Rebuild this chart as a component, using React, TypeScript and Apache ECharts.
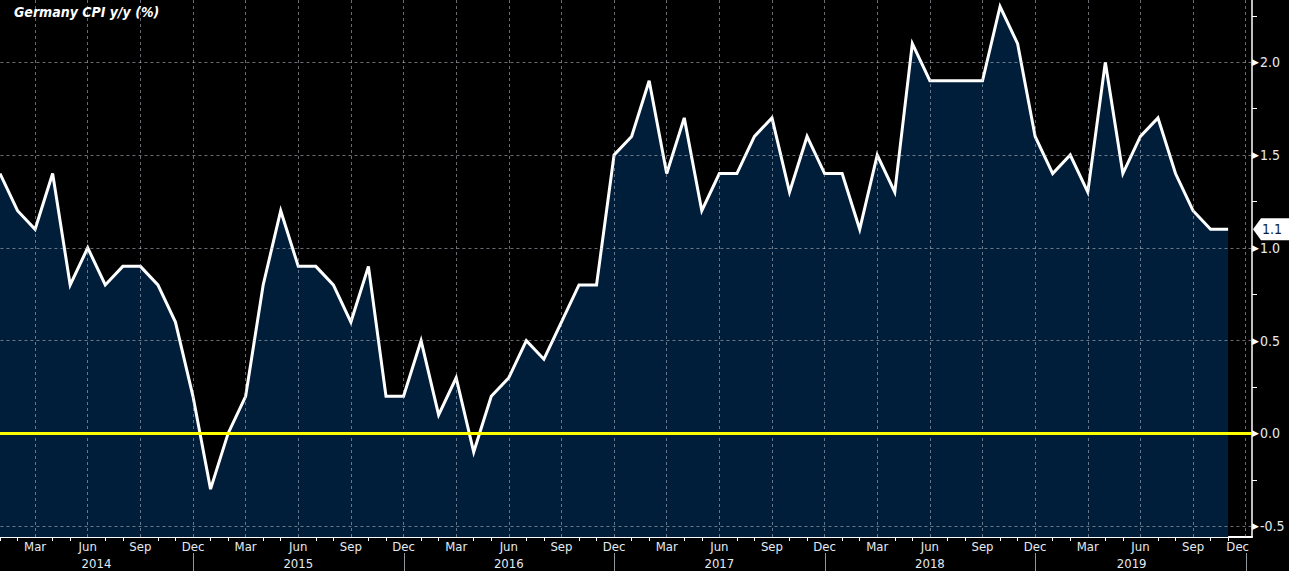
import React, { useEffect, useRef } from "react";
import * as echarts from "echarts";

// ---- data ----
const monthNames = ["Jan", "Feb", "Mar", "Apr", "May", "Jun", "Jul", "Aug", "Sep", "Oct", "Nov", "Dec"];
const years = [2014, 2015, 2016, 2017, 2018, 2019];
const cpi2014 = [1.4, 1.2, 1.1, 1.4, 0.8, 1.0, 0.8, 0.9, 0.9, 0.8, 0.6, 0.2];
const cpi2015 = [-0.3, 0.0, 0.2, 0.8, 1.2, 0.9, 0.9, 0.8, 0.6, 0.9, 0.2, 0.2];
const cpi2016 = [0.5, 0.1, 0.3, -0.1, 0.2, 0.3, 0.5, 0.4, 0.6, 0.8, 0.8, 1.5];
const cpi2017 = [1.6, 1.9, 1.4, 1.7, 1.2, 1.4, 1.4, 1.6, 1.7, 1.3, 1.6, 1.4];
const cpi2018 = [1.4, 1.1, 1.5, 1.3, 2.1, 1.9, 1.9, 1.9, 1.9, 2.3, 2.1, 1.6];
const cpi2019 = [1.4, 1.5, 1.3, 2.0, 1.4, 1.6, 1.7, 1.4, 1.2, 1.1, 1.1];
const gridValues = [-0.5, 0.5, 1.0, 1.5, 2.0];
const zeroLine = 0;

const cpi = [...cpi2014, ...cpi2015, ...cpi2016, ...cpi2017, ...cpi2018, ...cpi2019];
const seriesData = cpi.map((v, i) => [i, v]);
const lastIndex = cpi.length - 1;
const lastValue = cpi[lastIndex];
const lastMonthTick = years.length * 12 - 1;

const X_MIN = -1;
const X_MAX = 71.36;
const Y_MIN = -0.558;
const Y_MAX = 2.335;

const FONT = "'DejaVu Sans Condensed', 'Liberation Sans Narrow', 'Liberation Sans', sans-serif";
const LABEL_COLOR = "#e4ebf3";
const GRID_COLOR = "rgba(190,195,205,0.55)";

const quarterMonths = Array.from({ length: 72 }, (_, i) => i).filter((i) => i % 3 === 2);
const decMonths = years.map((_, k) => 11 + 12 * k);

export default function App() {
  const ref = useRef<HTMLDivElement>(null);

  useEffect(() => {
    const el = ref.current!;
    const chart = echarts.init(el, null, { renderer: "svg" });
    const option: any = {
      animation: false,
      backgroundColor: "#000000",
      title: {
        text: "Germany CPI y/y (%)",
        left: 14,
        top: 5,
        padding: 0,
        textStyle: {
          color: "#ffffff",
          fontStyle: "italic",
          fontWeight: "bold",
          fontSize: 14,
          fontFamily: FONT,
        },
      },
      grid: { left: -17.545, right: 37, top: 0, bottom: 34, outerBoundsMode: "none", containLabel: false },
      xAxis: [
        {
          type: "value",
          min: X_MIN,
          max: X_MAX,
          interval: 3,
          axisLine: { show: true, onZero: false, lineStyle: { color: "#ffffff", width: 2 } },
          axisTick: { show: false },
          minorTick: { show: true, splitNumber: 3, length: 4, lineStyle: { color: "#ffffff", width: 1 } },
          splitLine: { show: false },
          minorSplitLine: { show: false },
          axisLabel: {
            margin: 3,
            color: LABEL_COLOR,
            fontSize: 13,
            fontFamily: FONT,
            showMaxLabel: false,
            showMinLabel: false,
            formatter: (v: number) => {
              if (!Number.isInteger(v) || v < 0) return "";
              const name = monthNames[v % 12];
              return v === lastMonthTick ? `{e|${name}}` : name;
            },
            rich: {
              e: { color: LABEL_COLOR, fontSize: 13, fontFamily: FONT, padding: [0, 16, 0, 0] },
            },
          },
        },
      ],
      yAxis: [
        {
          type: "value",
          position: "right",
          min: Y_MIN,
          max: Y_MAX,
          splitNumber: 5,
          axisLine: { show: true, onZero: false, lineStyle: { color: "#ffffff", width: 1.5 } },
          axisTick: { show: false },
          minorTick: { show: true, splitNumber: 2, length: 5, lineStyle: { color: "#ffffff", width: 1 } },
          splitLine: { show: false },
          axisLabel: {
            margin: 0,
            formatter: (v: number) =>
              Math.abs(v * 2 - Math.round(v * 2)) < 1e-6 ? `{t|▶}{v|${v.toFixed(1)}}` : "",
            rich: {
              t: { fontSize: 9, color: "#ffffff", fontFamily: "DejaVu Sans", padding: [0, 1, 0, 0] },
              v: { fontSize: 14, color: LABEL_COLOR, fontFamily: FONT },
            },
          },
        },
      ],
      series: [
        {
          name: "area",
          type: "line",
          data: seriesData,
          symbol: "none",
          z: 1,
          silent: true,
          lineStyle: { width: 0, opacity: 0 },
          areaStyle: { color: "#001d3a", opacity: 1, origin: "start" },
        },
        {
          name: "grid",
          type: "line",
          data: [],
          z: 2,
          silent: true,
          markLine: {
            silent: true,
            symbol: ["none", "none"],
            label: { show: false },
            lineStyle: { color: GRID_COLOR, type: [3, 3], width: 1 },
            data: [
              ...quarterMonths.map((m) => ({ xAxis: m })),
              ...gridValues.map((v) => ({ yAxis: v })),
            ],
          },
        },
        {
          name: "Germany CPI y/y",
          type: "line",
          data: seriesData,
          symbol: "none",
          z: 3,
          lineStyle: { color: "#ffffff", width: 3, join: "miter" },
        },
        {
          name: "zero",
          type: "line",
          data: [],
          z: 4,
          silent: true,
          markLine: {
            silent: true,
            symbol: ["none", "none"],
            label: { show: false },
            lineStyle: { color: "#ffff00", type: "solid", width: 3 },
            data: [{ yAxis: zeroLine }],
          },
        },
      ],
    };
    chart.setOption(option);

    const px = (v: number) => chart.convertToPixel({ xAxisIndex: 0 }, v) as number;
    const py = (v: number) => chart.convertToPixel({ yAxisIndex: 0 }, v) as number;
    const bottom = py(Y_MIN);
    const graphics: any[] = [];
    decMonths.forEach((m) => {
      const x = Math.round(px(m)) + 0.5;
      graphics.push({
        type: "line",
        z: 50,
        silent: true,
        shape: { x1: x, y1: bottom + 16, x2: x, y2: bottom + 40 },
        style: { stroke: "#8f959c", lineWidth: 1 },
      });
    });
    years.forEach((yr, k) => {
      const start = Math.max(0, decMonths[k] - 12);
      const end = Math.min(decMonths[k], lastIndex);
      graphics.push({
        type: "text",
        z: 50,
        silent: true,
        x: px((start + end) / 2),
        y: bottom + 26,
        style: {
          text: String(yr),
          fill: LABEL_COLOR,
          font: `13px ${FONT}`,
          align: "center",
          verticalAlign: "middle",
        },
      });
    });
    graphics.push({
      type: "group",
      z: 60,
      x: px(X_MAX) + 1,
      y: py(lastValue),
      children: [
        {
          type: "polygon",
          shape: { points: [[0, 0], [8, -11], [37, -11], [37, 11], [8, 11]] },
          style: { fill: "#ffffff" },
        },
        {
          type: "text",
          x: 9,
          y: 0,
          style: {
            text: lastValue.toFixed(1),
            fill: "#0d1e3a",
            font: `14px ${FONT}`,
            align: "left",
            verticalAlign: "middle",
          },
        },
      ],
    });
    chart.setOption({ graphic: graphics });

    return () => chart.dispose();
  }, []);

  return (
    <div
      ref={ref}
      style={{ position: "fixed", left: 0, top: 0, width: 1289, height: 571, background: "#000" }}
    />
  );
}
